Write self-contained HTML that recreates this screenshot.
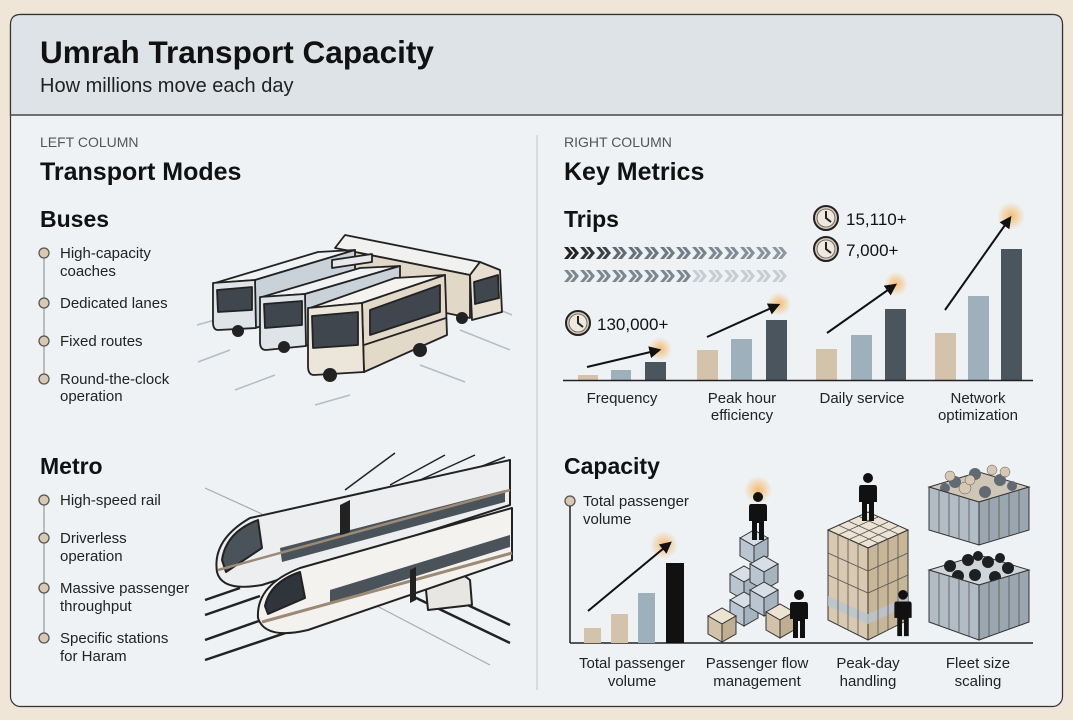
<!DOCTYPE html>
<html><head><meta charset="utf-8"><style>
html,body{margin:0;padding:0;background:#efe6d8;}
svg{display:block;font-family:"Liberation Sans",sans-serif;}
</style></head><body>
<svg width="1073" height="720" viewBox="0 0 1073 720" xmlns="http://www.w3.org/2000/svg">
<defs>
<radialGradient id="glow"><stop offset="0" stop-color="#f6b25a" stop-opacity="0.85"/><stop offset="1" stop-color="#f6b25a" stop-opacity="0"/></radialGradient>
<marker id="ah" viewBox="0 0 10 10" refX="8" refY="5" markerWidth="6" markerHeight="6" orient="auto"><path d="M0,0 L10,5 L0,10 z" fill="#111"/></marker>
<symbol id="person" viewBox="0 0 20 50"><circle cx="10" cy="5" r="5" fill="#111"/><path d="M3,12 H17 Q19,12 19,15 V29 H16 V48 H11 V31 H9 V48 H4 V29 H1 V15 Q1,12 3,12z" fill="#111"/></symbol>
<symbol id="chev" viewBox="0 0 16 12"><path d="M0,0 H4 L9,6 L4,12 H0 L5,6z M6,0 H10 L15,6 L10,12 H6 L11,6z"/></symbol>
<g id="clock"><circle r="12" fill="#d9c9b3" stroke="#222" stroke-width="2"/><circle r="9" fill="#eee8de" stroke="#555" stroke-width="0.8"/><path d="M0,-7 V0 L5,4" stroke="#222" stroke-width="2" fill="none"/></g>
<g id="cube"><path d="M0,8 L14,0 L28,8 L14,16z" fill="#ece3d3" stroke="#333"/><path d="M0,8 V26 L14,34 V16z" fill="#d2c2a8" stroke="#333"/><path d="M28,8 V26 L14,34 V16z" fill="#bfae92" stroke="#333"/></g>
<g id="bcube"><path d="M0,8 L14,0 L28,8 L14,16z" fill="#d6dfe6" stroke="#333"/><path d="M0,8 V26 L14,34 V16z" fill="#b9c6d1" stroke="#333"/><path d="M28,8 V26 L14,34 V16z" fill="#a6b4c0" stroke="#333"/></g>
</defs>
<rect x="10.5" y="14.5" width="1052" height="692" rx="10" fill="#eef2f4" stroke="#333" stroke-width="1.2"/>
<path d="M10.5,115 V24.5 Q10.5,14.5 20.5,14.5 H1052.5 Q1062.5,14.5 1062.5,24.5 V115 Z" fill="#dde3e6" stroke="#333" stroke-width="1.2"/>
<line x1="10" y1="115" x2="1063" y2="115" stroke="#444" stroke-width="1.2"/>
<text x="40" y="63" font-size="31.5" font-weight="bold" fill="#111">Umrah Transport Capacity</text>
<text x="40" y="92" font-size="20" fill="#222">How millions move each day</text>
<line x1="537" y1="135" x2="537" y2="690" stroke="#c8ced2" stroke-width="1.2"/>

<text x="40" y="147" font-size="14" fill="#555">LEFT COLUMN</text>
<text x="40" y="180" font-size="25" font-weight="bold" fill="#111">Transport Modes</text>
<text x="40" y="227" font-size="23" font-weight="bold" fill="#111">Buses</text>
<line x1="44" y1="253" x2="44" y2="379" stroke="#999" stroke-width="1.2"/>
<g fill="#d9c9b3" stroke="#555" stroke-width="1.3">
<circle cx="44" cy="253" r="5"/><circle cx="44" cy="303" r="5"/><circle cx="44" cy="341" r="5"/><circle cx="44" cy="379" r="5"/></g>
<g font-size="15" fill="#222">
<text x="60" y="258">High-capacity</text><text x="60" y="276">coaches</text>
<text x="60" y="308">Dedicated lanes</text>
<text x="60" y="346">Fixed routes</text>
<text x="60" y="384">Round-the-clock</text><text x="60" y="401">operation</text>
</g>
<g stroke="#b5bcc2" stroke-width="1.5">
<line x1="197" y1="325" x2="215" y2="320"/><line x1="198" y1="362" x2="230" y2="350"/><line x1="235" y1="390" x2="275" y2="375"/><line x1="315" y1="405" x2="350" y2="395"/>
<line x1="460" y1="330" x2="510" y2="350"/><line x1="420" y1="365" x2="465" y2="382"/><line x1="500" y1="310" x2="512" y2="315"/>
</g>
<g stroke="#222" stroke-width="1.8" stroke-linejoin="round">
<path d="M335,248 L345,235 L480,262 L470,275z" fill="#f1f1ef"/>
<path d="M345,250 L470,275 L470,318 L360,295z" fill="#e2d8c8"/>
<path d="M470,275 L480,262 L500,270 L502,312 L472,320z" fill="#e8dfd1"/>
<path d="M474,282 L498,275 L499,298 L475,304z" fill="#3f464d"/>
<path d="M215,283 L255,280 L355,250 L318,252z" fill="#f1f2f3"/>
<path d="M255,280 L355,250 L355,300 L255,328z" fill="#c9d2d9"/>
<path d="M213,283 L255,280 L256,328 L218,330 Q213,330 213,322z" fill="#dfe4e8"/>
<path d="M217,290 L252,287 L252,310 L218,312z" fill="#3f464d"/>
<path d="M262,297 L305,294 L400,266 L360,268z" fill="#f1f2f3"/>
<path d="M305,294 L400,266 L400,318 L305,346z" fill="#c9d2d9"/>
<path d="M260,297 L305,294 L306,346 L266,350 Q260,350 260,342z" fill="#dfe4e8"/>
<path d="M264,304 L302,301 L302,325 L265,328z" fill="#3f464d"/>
<path d="M310,308 L362,303 L445,275 L395,278z" fill="#f4f3f0"/>
<path d="M362,303 L445,275 L447,335 L364,372z" fill="#e3d9c8"/>
<path d="M308,308 L362,303 L364,372 L314,375 Q308,375 308,366z" fill="#ece5d9"/>
<path d="M312,316 L358,312 L358,345 L313,348z" fill="#3f464d"/>
<path d="M370,310 L440,285 L440,312 L370,335z" fill="#3f464d"/>
<path d="M364,345 L446,318" fill="none"/>
<path d="M332,260 L372,254 L372,262 L332,268z" fill="#e6e8ea"/>
</g>
<g fill="#222"><circle cx="238" cy="331" r="6"/><circle cx="284" cy="347" r="6"/><circle cx="330" cy="375" r="7"/><circle cx="420" cy="350" r="7"/><circle cx="462" cy="318" r="6"/></g>

<text x="40" y="474" font-size="23" font-weight="bold" fill="#111">Metro</text>
<line x1="44" y1="500" x2="44" y2="638" stroke="#999" stroke-width="1.2"/>
<g fill="#d9c9b3" stroke="#555" stroke-width="1.3">
<circle cx="44" cy="500" r="5"/><circle cx="44" cy="538" r="5"/><circle cx="44" cy="588" r="5"/><circle cx="44" cy="638" r="5"/></g>
<g font-size="15" fill="#222">
<text x="60" y="505">High-speed rail</text>
<text x="60" y="543">Driverless</text><text x="60" y="561">operation</text>
<text x="60" y="593">Massive passenger</text><text x="60" y="611">throughput</text>
<text x="60" y="643">Specific stations</text><text x="60" y="661">for Haram</text>
</g>
<g stroke="#222" stroke-width="1.5">
<line x1="345" y1="490" x2="395" y2="453"/><line x1="390" y1="485" x2="445" y2="455"/><line x1="420" y1="480" x2="475" y2="455"/><line x1="460" y1="475" x2="505" y2="457"/>
</g>
<line x1="205" y1="488" x2="262" y2="514" stroke="#aaa" stroke-width="1.2"/>
<line x1="375" y1="605" x2="490" y2="665" stroke="#aaa" stroke-width="1.2"/>
<g stroke="#222" stroke-width="2.5" fill="none">
<line x1="205" y1="640" x2="290" y2="610"/><line x1="205" y1="660" x2="330" y2="618"/>
<line x1="205" y1="600" x2="240" y2="588"/><line x1="205" y1="615" x2="260" y2="596"/>
<line x1="410" y1="595" x2="510" y2="643"/><line x1="440" y1="592" x2="510" y2="625"/>
</g>
<g stroke="#222" stroke-width="2" stroke-linejoin="round">
<path d="M217,572 Q212,540 250,518 L510,460 L510,505 L262,585 Q222,592 217,572z" fill="#eceef0"/>
<path d="M222,560 Q226,532 258,520 L262,548 L226,572z" fill="#4a525a"/>
<path d="M280,548 L505,490 L505,502 L282,562z" fill="#4a525a" stroke="none"/>
<path d="M340,505 L350,500 L350,532 L340,536z" fill="#222" stroke="none"/>
<path d="M425,580 Q445,560 470,580 L472,605 L428,610z" fill="#e8e6e2"/>
<path d="M258,618 Q256,585 300,568 L512,508 L512,560 L308,630 Q265,640 258,618z" fill="#f4f2ee"/>
<path d="M265,606 Q270,582 300,572 L305,598 L268,614z" fill="#2f353a"/>
<path d="M330,590 L510,535 L510,547 L330,603z" fill="#4a525a" stroke="none"/>
<path d="M262,622 L512,553" stroke="#9b8a74" stroke-width="3" fill="none"/>
<path d="M218,570 L510,490" stroke="#9b8a74" stroke-width="2.5" fill="none"/>
<path d="M410,570 L416,567 L416,600 L410,603z" fill="#222" stroke="none"/>
</g>

<text x="564" y="147" font-size="14" fill="#555">RIGHT COLUMN</text>
<text x="564" y="180" font-size="25" font-weight="bold" fill="#111">Key Metrics</text>
<text x="564" y="227" font-size="23" font-weight="bold" fill="#111">Trips</text>
<g>
<use href="#chev" x="564" y="247" width="16" height="12" fill="#222"/>
<use href="#chev" x="580" y="247" width="16" height="12" fill="#333"/>
<use href="#chev" x="596" y="247" width="16" height="12" fill="#3a4249"/>
<use href="#chev" x="612" y="247" width="16" height="12" fill="#5f6a72"/>
<use href="#chev" x="628" y="247" width="16" height="12" fill="#66727a"/>
<use href="#chev" x="644" y="247" width="16" height="12" fill="#6b777f"/>
<use href="#chev" x="660" y="247" width="16" height="12" fill="#6f7b83"/>
<use href="#chev" x="676" y="247" width="16" height="12" fill="#737f87"/>
<use href="#chev" x="692" y="247" width="16" height="12" fill="#78848c"/>
<use href="#chev" x="708" y="247" width="16" height="12" fill="#7c8890"/>
<use href="#chev" x="724" y="247" width="16" height="12" fill="#808c94"/>
<use href="#chev" x="740" y="247" width="16" height="12" fill="#849098"/>
<use href="#chev" x="756" y="247" width="16" height="12" fill="#88949c"/>
<use href="#chev" x="772" y="247" width="16" height="12" fill="#8c98a0"/>
<use href="#chev" x="564" y="270" width="16" height="12" fill="#7c8890"/>
<use href="#chev" x="580" y="270" width="16" height="12" fill="#7c8890"/>
<use href="#chev" x="596" y="270" width="16" height="12" fill="#7c8890"/>
<use href="#chev" x="612" y="270" width="16" height="12" fill="#7c8890"/>
<use href="#chev" x="628" y="270" width="16" height="12" fill="#7c8890"/>
<use href="#chev" x="644" y="270" width="16" height="12" fill="#7c8890"/>
<use href="#chev" x="660" y="270" width="16" height="12" fill="#7c8890"/>
<use href="#chev" x="676" y="270" width="16" height="12" fill="#7c8890"/>
<use href="#chev" x="692" y="270" width="16" height="12" fill="#c6ced4"/>
<use href="#chev" x="708" y="270" width="16" height="12" fill="#c6ced4"/>
<use href="#chev" x="724" y="270" width="16" height="12" fill="#c6ced4"/>
<use href="#chev" x="740" y="270" width="16" height="12" fill="#c6ced4"/>
<use href="#chev" x="756" y="270" width="16" height="12" fill="#c6ced4"/>
<use href="#chev" x="772" y="270" width="16" height="12" fill="#c6ced4"/>
</g>
<use href="#clock" transform="translate(578,323)"/>
<text x="597" y="330" font-size="17" fill="#111">130,000+</text>
<use href="#clock" transform="translate(826,218)"/>
<text x="846" y="225" font-size="17" fill="#111">15,110+</text>
<use href="#clock" transform="translate(826,249)"/>
<text x="846" y="256" font-size="17" fill="#111">7,000+</text>
<circle cx="660" cy="349" r="12" fill="url(#glow)"/>
<circle cx="779" cy="304" r="12" fill="url(#glow)"/>
<circle cx="896" cy="284" r="12" fill="url(#glow)"/>
<circle cx="1011" cy="216" r="14" fill="url(#glow)"/>
<g>
<rect x="578" y="375" width="20" height="5" fill="#d2c3aa"/><rect x="611" y="370" width="20" height="10" fill="#9fb0bd"/><rect x="645" y="362" width="21" height="18" fill="#4a555d"/>
<rect x="697" y="350" width="21" height="30" fill="#d2c3aa"/><rect x="731" y="339" width="21" height="41" fill="#9fb0bd"/><rect x="766" y="320" width="21" height="60" fill="#4a555d"/>
<rect x="816" y="349" width="21" height="31" fill="#d2c3aa"/><rect x="851" y="335" width="21" height="45" fill="#9fb0bd"/><rect x="885" y="309" width="21" height="71" fill="#4a555d"/>
<rect x="935" y="333" width="21" height="47" fill="#d2c3aa"/><rect x="968" y="296" width="21" height="84" fill="#9fb0bd"/><rect x="1001" y="249" width="21" height="131" fill="#4a555d"/>
</g>
<line x1="563" y1="380.5" x2="1033" y2="380.5" stroke="#222" stroke-width="1.5"/>
<g stroke="#111" stroke-width="2" marker-end="url(#ah)">
<line x1="587" y1="367" x2="659" y2="350"/><line x1="707" y1="337" x2="778" y2="305"/><line x1="827" y1="333" x2="895" y2="285"/><line x1="945" y1="310" x2="1010" y2="218"/>
</g>
<g font-size="15" fill="#222" text-anchor="middle">
<text x="622" y="403">Frequency</text>
<text x="742" y="403">Peak hour</text><text x="742" y="420">efficiency</text>
<text x="862" y="403">Daily service</text>
<text x="978" y="403">Network</text><text x="978" y="420">optimization</text>
</g>

<text x="564" y="474" font-size="23" font-weight="bold" fill="#111">Capacity</text>
<circle cx="570" cy="501" r="5" fill="#d9c9b3" stroke="#555" stroke-width="1.3"/>
<text x="583" y="506" font-size="15" fill="#222">Total passenger</text>
<text x="583" y="524" font-size="15" fill="#222">volume</text>
<line x1="570" y1="506" x2="570" y2="643" stroke="#222" stroke-width="1.5"/>
<line x1="570" y1="643" x2="1033" y2="643" stroke="#222" stroke-width="1.5"/>
<rect x="584" y="628" width="17" height="15" fill="#d2c3aa"/><rect x="611" y="614" width="17" height="29" fill="#d2c3aa"/><rect x="638" y="593" width="17" height="50" fill="#9fb0bd"/><rect x="666" y="563" width="18" height="80" fill="#111"/>
<circle cx="664" cy="545" r="14" fill="url(#glow)"/>
<line x1="588" y1="611" x2="670" y2="543" stroke="#111" stroke-width="2" marker-end="url(#ah)"/>
<g transform="translate(708,530)">
<use href="#bcube" x="32" y="0"/>
<use href="#bcube" x="22" y="36"/><use href="#bcube" x="42" y="26"/>
<use href="#bcube" x="22" y="62"/><use href="#bcube" x="42" y="52"/>
<use href="#cube" x="0" y="78"/>
<use href="#cube" x="58" y="74"/>
</g>
<circle cx="758" cy="490" r="14" fill="url(#glow)"/>
<use href="#person" x="748" y="492" width="20" height="50"/>
<use href="#person" x="789" y="590" width="20" height="50"/>
<path d="M828,530 L868,512 L908,530 L868,548z" fill="#ece3d3" stroke="#333"/>
<path d="M828,530 V620 L868,640 V548z" fill="#d8c9b0" stroke="#333"/>
<path d="M908,530 V620 L868,640 V548z" fill="#c7b697" stroke="#333"/>
<path d="M828,596 L868,614 L908,596 V606 L868,624 L828,606z" fill="#b9c6d1" opacity="0.8"/>
<g stroke="#555" stroke-width="0.8" fill="none">
<path d="M838,535 L878,517 M848,540 L888,522 M858,544 L898,526 M838,525 L878,543 M848,521 L888,539 M858,516 L898,534"/>
<path d="M838,535 V625 M848,540 V630 M858,544 V635 M878,543 V634 M888,539 V630 M898,534 V625"/>
<path d="M828,553 L868,571 L908,553 M828,575 L868,593 L908,575"/>
</g>
<use href="#person" x="858" y="473" width="20" height="50"/>
<use href="#person" x="893" y="590" width="20" height="48"/>
<g>
<path d="M929,487 L979,472 L1029,487 L979,502z" fill="#cfc6b8" stroke="#333"/>
<g fill="#5f6a72"><circle cx="955" cy="482" r="6"/><circle cx="975" cy="474" r="6"/><circle cx="1000" cy="480" r="6"/><circle cx="985" cy="492" r="6"/><circle cx="945" cy="488" r="5"/><circle cx="1012" cy="486" r="5"/></g>
<g fill="#d6c8b2" stroke="#555" stroke-width="0.5"><circle cx="965" cy="488" r="6"/><circle cx="992" cy="470" r="5"/><circle cx="970" cy="480" r="5"/><circle cx="1005" cy="472" r="5"/><circle cx="950" cy="476" r="5"/></g>
<path d="M929,487 V530 L979,545 V502z" fill="#b2bcc5" stroke="#333"/>
<path d="M1029,487 V530 L979,545 V502z" fill="#9aa6b0" stroke="#333"/>
<path d="M929,570 L979,555 L1029,570 L979,585z" fill="#d0d5d9" stroke="#333"/>
<g fill="#1d1f21"><circle cx="950" cy="566" r="6"/><circle cx="968" cy="560" r="6"/><circle cx="988" cy="562" r="6"/><circle cx="1008" cy="568" r="6"/><circle cx="975" cy="575" r="6"/><circle cx="958" cy="576" r="6"/><circle cx="995" cy="577" r="6"/><circle cx="978" cy="556" r="5"/><circle cx="1000" cy="558" r="5"/></g>
<path d="M929,570 V622 L979,640 V585z" fill="#b2bcc5" stroke="#333"/>
<path d="M1029,570 V622 L979,640 V585z" fill="#9aa6b0" stroke="#333"/>
<g stroke="#555" stroke-width="0.8"><path d="M939,490 V533 M949,493 V536 M959,496 V539 M969,499 V542 M989,499 V542 M999,496 V539 M1009,493 V536 M1019,490 V533 M939,573 V625 M949,576 V629 M959,579 V632 M969,582 V636 M989,582 V636 M999,579 V632 M1009,576 V629 M1019,573 V625"/></g>
</g>
<g font-size="15" fill="#222" text-anchor="middle">
<text x="632" y="668">Total passenger</text><text x="632" y="686">volume</text>
<text x="757" y="668">Passenger flow</text><text x="757" y="686">management</text>
<text x="868" y="668">Peak-day</text><text x="868" y="686">handling</text>
<text x="978" y="668">Fleet size</text><text x="978" y="686">scaling</text>
</g>
</svg>
</body></html>
